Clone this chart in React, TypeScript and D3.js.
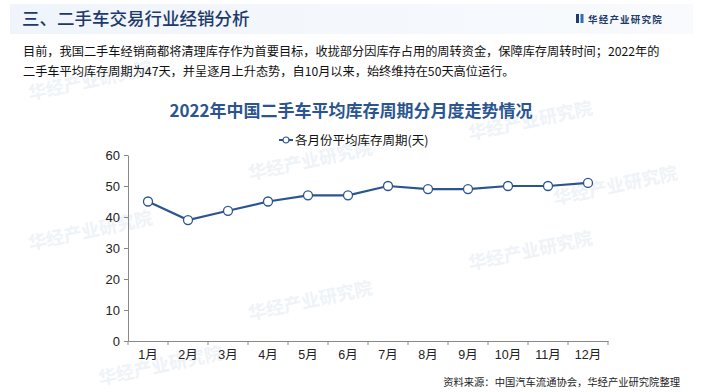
import React, { useRef, useEffect } from 'react';
import * as d3 from 'd3';

const months = ['1月', '2月', '3月', '4月', '5月', '6月', '7月', '8月', '9月', '10月', '11月', '12月'];
const stockDays = [45, 39, 42, 45, 47, 47, 50, 49, 49, 50, 50, 51];
const yTicks = [0, 10, 20, 30, 40, 50, 60];
const seriesName = '各月份平均库存周期(天)';

const W = 703;
const H = 392;
const FONT = '"Noto Sans CJK SC", "Noto Sans", sans-serif';
const NUM_FONT = '"Liberation Sans", "Noto Sans CJK SC", sans-serif';

const App = () => {
  const ref = useRef<SVGSVGElement>(null);

  useEffect(() => {
    const svg = d3.select(ref.current);
    svg.selectAll('*').remove();

    // header band
    const defs = svg.append('defs');
    const grad = defs.append('linearGradient').attr('id', 'hdr').attr('x1', 0).attr('x2', 1);
    grad.append('stop').attr('offset', '0%').attr('stop-color', '#f0f5fb');
    grad.append('stop').attr('offset', '100%').attr('stop-color', '#f8fafd');
    svg.append('rect').attr('width', W).attr('height', H).attr('fill', '#ffffff');
    svg.append('rect').attr('x', 10).attr('y', 4).attr('width', W - 20).attr('height', 30).attr('fill', 'url(#hdr)');

    svg.append('text').attr('x', 22).attr('y', 25)
      .attr('font-family', FONT).attr('font-size', 17.5).attr('font-weight', 500)
      .attr('fill', '#1d3a6b').text('三、二手车交易行业经销分析');

    // logo
    svg.append('rect').attr('x', 576).attr('y', 14).attr('width', 3).attr('height', 9).attr('fill', '#1d3a6b');
    svg.append('rect').attr('x', 580.5).attr('y', 14).attr('width', 3).attr('height', 9).attr('fill', '#2d6fb6');
    svg.append('text').attr('x', 588).attr('y', 22.5)
      .attr('font-family', FONT).attr('font-size', 9.5).attr('font-weight', 700)
      .attr('letter-spacing', 1.2)
      .attr('fill', '#1d3a6b').text('华经产业研究院');

    // watermarks
    const wm = [[30, 100], [250, 180], [470, 140], [30, 250], [250, 320], [470, 270], [555, 205], [100, 385]];
    wm.forEach(([x, y]) => {
      svg.append('text').attr('x', x).attr('y', y)
        .attr('transform', `rotate(-12,${x},${y})`)
        .attr('font-family', FONT).attr('font-size', 18).attr('font-weight', 700)
        .attr('fill', '#e8eef6').attr('opacity', 0.7).text('华经产业研究院');
    });

    // paragraph
    const para = [
      '目前，我国二手车经销商都将清理库存作为首要目标，收拢部分因库存占用的周转资金，保障库存周转时间；2022年的',
      '二手车平均库存周期为47天，并呈逐月上升态势，自10月以来，始终维持在50天高位运行。',
    ];
    para.forEach((t, i) => {
      svg.append('text').attr('x', 23).attr('y', 56 + i * 20)
        .attr('font-family', FONT).attr('font-size', 12.2)
        .attr('fill', '#111').text(t);
    });

    // chart title
    svg.append('text').attr('x', 351).attr('y', 117).attr('text-anchor', 'middle')
      .attr('font-family', FONT).attr('font-size', 17).attr('font-weight', 700)
      .attr('fill', '#2b5590').text('2022年中国二手车平均库存周期分月度走势情况');

    // legend
    const lg = svg.append('g').attr('transform', 'translate(279,140)');
    lg.append('line').attr('x1', 0).attr('x2', 14).attr('y1', 0).attr('y2', 0)
      .attr('stroke', '#2b5590').attr('stroke-width', 2);
    lg.append('circle').attr('cx', 7).attr('cy', 0).attr('r', 3)
      .attr('fill', '#fff').attr('stroke', '#2b5590').attr('stroke-width', 1.2);
    lg.append('text').attr('x', 16).attr('y', 5)
      .attr('font-family', FONT).attr('font-size', 12.5).attr('fill', '#111').text(seriesName);

    // plot
    const x = d3.scaleBand().domain(months).range([128, 608]);
    const y = d3.scaleLinear().domain([0, 60]).range([341, 155]);

    const yAxis = svg.append('g').attr('transform', 'translate(128,0)')
      .call(d3.axisLeft(y).tickValues(yTicks).tickSize(4).tickSizeOuter(0));
    yAxis.select('.domain').attr('stroke', '#888');
    yAxis.selectAll('.tick line').attr('stroke', '#888');
    yAxis.selectAll('.tick text').attr('font-family', NUM_FONT).attr('font-size', 13).attr('fill', '#222').attr('dx', -1);

    const xAxis = svg.append('g').attr('transform', 'translate(0,341)')
      .call(d3.axisBottom(x).tickSize(0).tickSizeOuter(0));
    xAxis.select('.domain').attr('stroke', '#888');
    xAxis.selectAll('.tick text').attr('font-family', NUM_FONT).attr('font-size', 12.5).attr('fill', '#222').attr('dy', '1.2em');
    // tick marks between categories
    xAxis.selectAll('.sep').data(d3.range(months.length + 1)).enter().append('line')
      .attr('x1', (i) => 128 + i * x.bandwidth()).attr('x2', (i) => 128 + i * x.bandwidth())
      .attr('y1', 0).attr('y2', 4).attr('stroke', '#888');

    const cx = (d: string) => (x(d) as number) + x.bandwidth() / 2;
    const line = d3.line<number>().x((_, i) => cx(months[i])).y((d) => y(d));
    svg.append('path').datum(stockDays).attr('d', line)
      .attr('fill', 'none').attr('stroke', '#2b5590').attr('stroke-width', 2.2);
    svg.selectAll('.pt').data(stockDays).enter().append('circle')
      .attr('cx', (_, i) => cx(months[i])).attr('cy', (d) => y(d)).attr('r', 4.5)
      .attr('fill', '#fff').attr('stroke', '#2b5590').attr('stroke-width', 1.3);

    // source
    svg.append('text').attr('x', 680).attr('y', 386).attr('text-anchor', 'end')
      .attr('font-family', FONT).attr('font-size', 10.3).attr('fill', '#222')
      .text('资料来源：中国汽车流通协会，华经产业研究院整理');
  }, []);

  return (
    <svg ref={ref} width={W} height={H} style={{ position: 'absolute', left: 0, top: 0 }} />
  );
};

export default App;
